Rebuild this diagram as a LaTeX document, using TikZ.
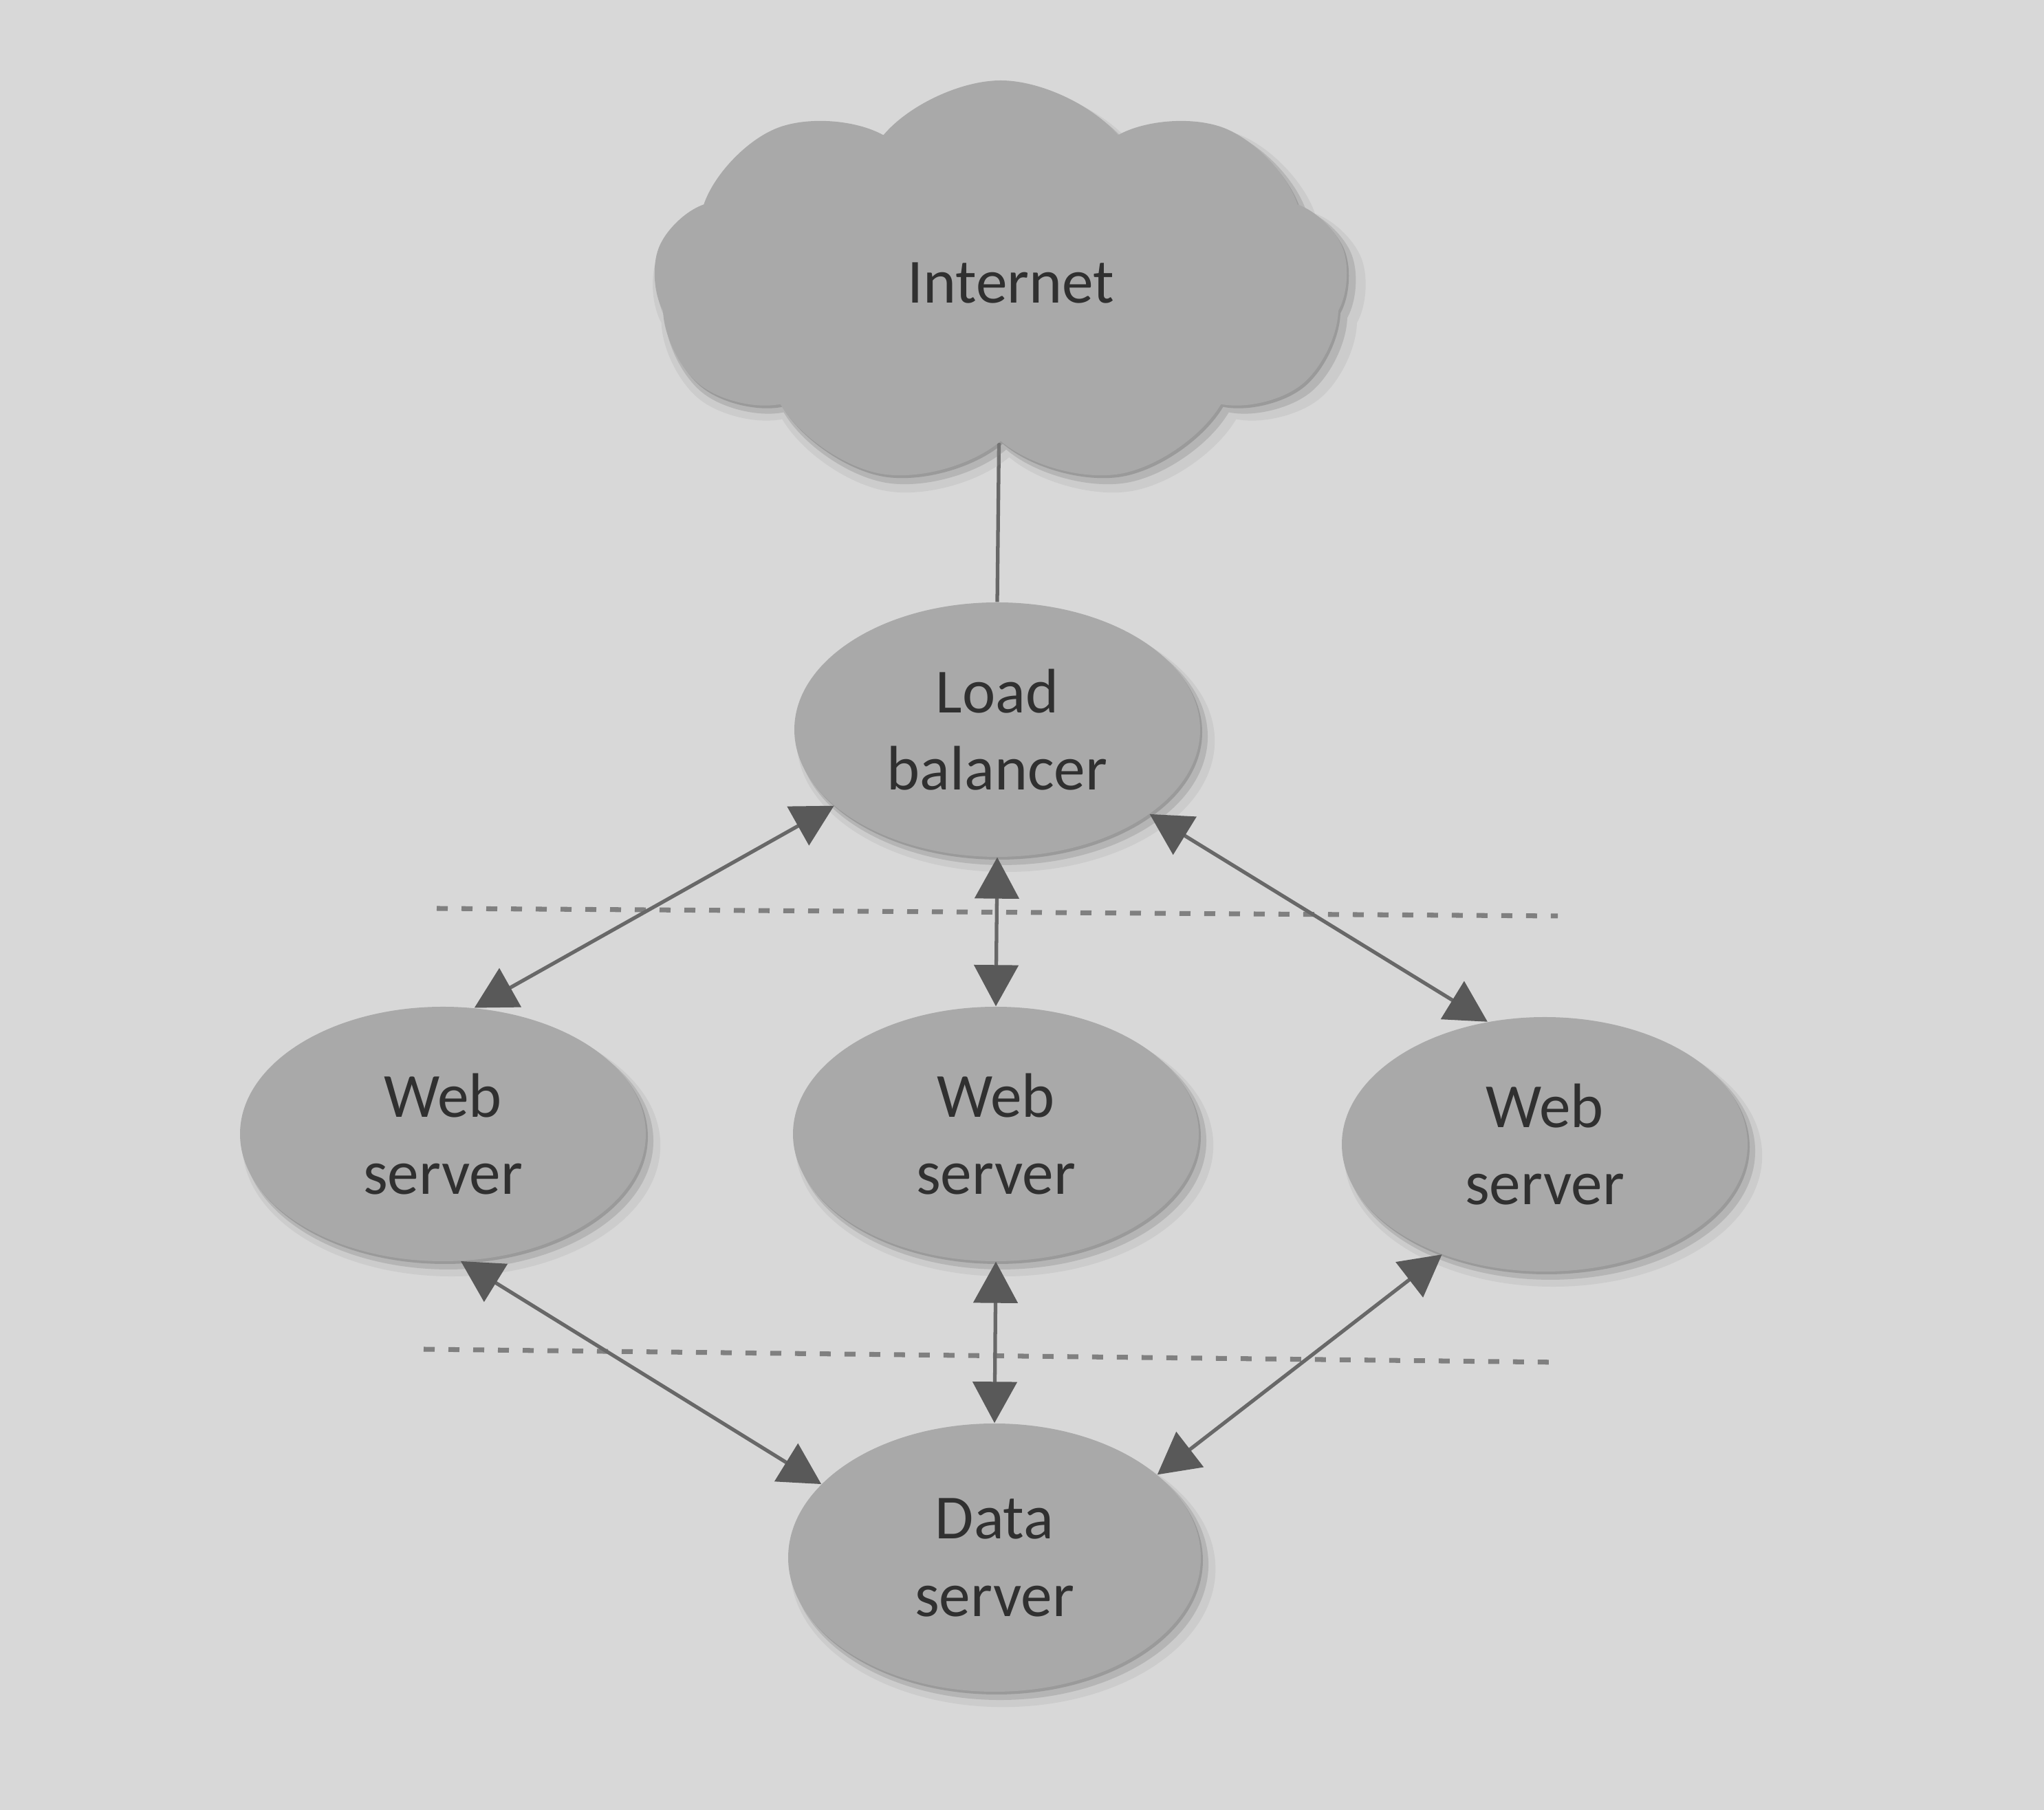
\documentclass[tikz,border=0pt]{standalone}
\usepackage{fontspec}
\setmainfont{Carlito}
\usetikzlibrary{arrows.meta,shapes.geometric,shapes.symbols,shadows,backgrounds}
\definecolor{paper}{HTML}{D8D8D8}
\definecolor{blob}{HTML}{A9A9A9}
\definecolor{ink}{HTML}{303030}
\definecolor{wire}{HTML}{686868}
\begin{document}
\begin{tikzpicture}[
  blob/.style={fill=blob, text=ink, align=center, inner sep=0pt, font=\fontsize{26}{32}\selectfont,
    drop shadow={shadow xshift=.12cm, shadow yshift=-.16cm, shadow scale=1.03, fill=black!40, opacity=.18},
    drop shadow={shadow xshift=.08cm, shadow yshift=-.1cm, shadow scale=1.01, fill=black!50, opacity=.3},
    drop shadow={shadow xshift=.03cm, shadow yshift=-.04cm, fill=black!55, opacity=.4}},
  srv/.style={blob, ellipse, minimum width=5.9cm, minimum height=3.7cm},
  link/.style={{Triangle[length=6mm,width=6.4mm,color=black!65]}-{Triangle[length=6mm,width=6.4mm,color=black!65]}, line width=1.5pt, draw=wire},
  sep/.style={draw=black!50, line width=2pt, dash pattern=on 1.6mm off 2mm}]
\node[blob, cloud, cloud puffs=9, cloud puff arc=100, aspect=1.8, minimum width=10.1cm, minimum height=5.9cm] (net) at (14.55,22.2) {\hspace*{3mm}Internet};
\node[srv] (lb) at (14.5,15.71) {Load\\balancer};
\node[srv] (web1) at (6.44,9.83) {Web\\server};
\node[srv] (web2) at (14.48,9.83) {Web\\server};
\node[srv] (web3) at (22.46,9.68) {Web\\server};
\node[srv, minimum width=6cm, minimum height=3.9cm] (data) at (14.46,3.67) {Data\\server};
\draw[sep] (6.35,13.11) -- (22.65,13.00);\draw[sep] (6.16,6.70) -- (22.69,6.51);
\draw[link] (lb.205) -- (web1.76);\draw[link] (lb.south) -- (web2.north);\draw[link] (lb.331) -- (web3.115);
\draw[link] (web1.278) -- (data.157);\draw[link] (web2.south) -- (data.north);\draw[link] (web3.227) -- (data.27);
\begin{scope}[on background layer]
\fill[paper] (0,0) rectangle (29.72,26.32);
\draw[line width=1.5pt, draw=wire] (net) -- (lb.north);
\end{scope}
\end{tikzpicture}
\end{document}
